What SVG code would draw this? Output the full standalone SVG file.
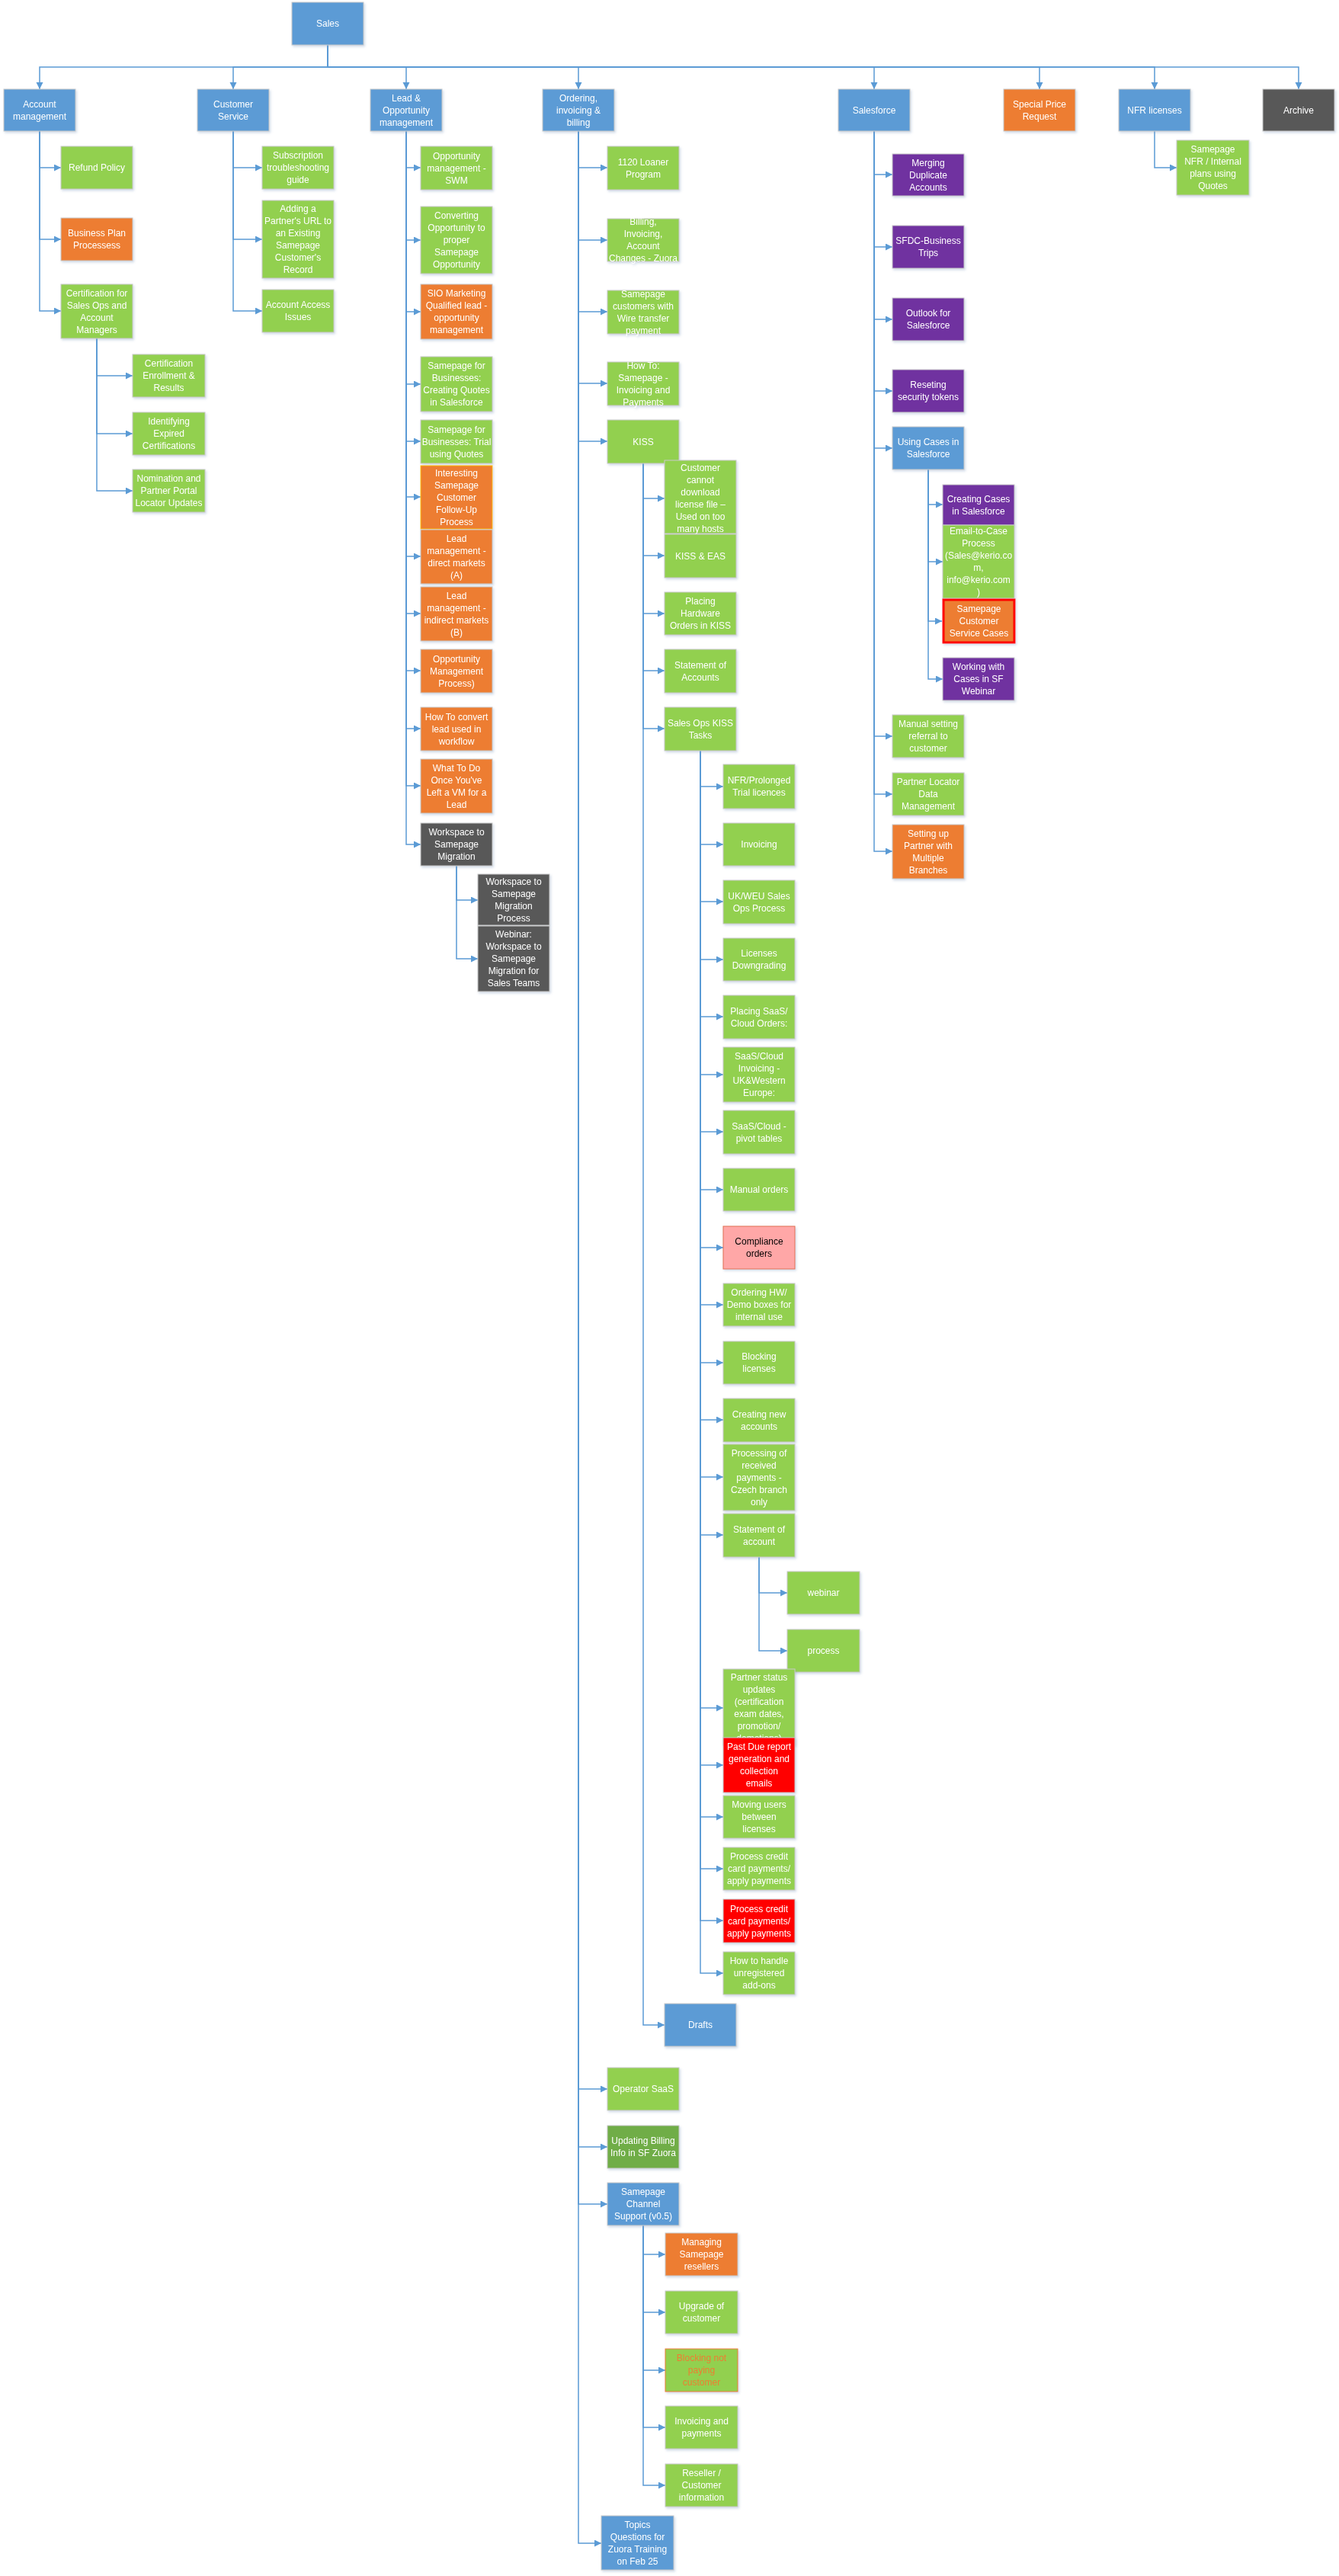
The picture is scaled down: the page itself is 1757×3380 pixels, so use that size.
<svg xmlns="http://www.w3.org/2000/svg" width="1757" height="3380" viewBox="0 0 1757 3380">
<style>
.node rect{stroke:#C9C9C9;stroke-width:1}
.blue{fill:#5B9BD5}.green{fill:#92D050}.orange{fill:#ED7D31}.purple{fill:#7030A0}.gray{fill:#595959}.red{fill:#FF0000}.pink{fill:#FFA7A7}.dgreen{fill:#70AD47}
text{font-family:"Liberation Sans",Arial,sans-serif;font-size:12px;fill:#FFFFFF;text-anchor:middle;dominant-baseline:central}
.conn path{fill:none;stroke:#5B9BD5;stroke-width:1.5;marker-end:url(#arr)}
.node{filter:url(#sh)}
</style>
<defs>
<marker id="arr" markerUnits="userSpaceOnUse" markerWidth="10" markerHeight="10" refX="9" refY="4.5" orient="auto"><path d="M0,0L9,4.5L0,9z" fill="#5B9BD5"/></marker>
<filter id="sh" x="-10%" y="-10%" width="130%" height="140%"><feDropShadow dx="1.5" dy="2" stdDeviation="1.5" flood-color="#7F9CC0" flood-opacity="0.35"/></filter>
</defs>
<rect width="1757" height="3380" fill="#FFFFFF"/>
<g id="connectors" class="conn">
<path d="M430,59V88H52V117"/><path d="M430,59V88H306V117"/><path d="M430,59V88H533V117"/><path d="M430,59V88H759V117"/><path d="M430,59V88H1147V117"/><path d="M430,59V88H1364V117"/><path d="M430,59V88H1515V117"/><path d="M430,59V88H1704V117"/>
<path d="M52,172V220H80"/><path d="M52,172V314H80"/><path d="M52,172V408H80"/>
<path d="M127,444V493H174"/><path d="M127,444V569H174"/><path d="M127,444V644H174"/>
<path d="M306,172V220H344"/><path d="M306,172V314H344"/><path d="M306,172V408H344"/>
<path d="M533,172V220H552"/><path d="M533,172V315H552"/><path d="M533,172V409H552"/><path d="M533,172V504H552"/><path d="M533,172V579H552"/><path d="M533,172V652H552"/><path d="M533,172V730H552"/><path d="M533,172V805H552"/><path d="M533,172V880H552"/><path d="M533,172V956H552"/><path d="M533,172V1031H552"/><path d="M533,172V1108H552"/>
<path d="M599,1136V1181H627"/><path d="M599,1136V1258H627"/>
<path d="M759,172V220H797"/><path d="M759,172V315H797"/><path d="M759,172V409H797"/><path d="M759,172V503H797"/><path d="M759,172V579H797"/><path d="M759,172V2741H797"/><path d="M759,172V2817H797"/><path d="M759,172V2892H797"/><path d="M759,172V3337H789"/>
<path d="M844,608V654H872"/><path d="M844,608V729H872"/><path d="M844,608V805H872"/><path d="M844,608V880H872"/><path d="M844,608V956H872"/><path d="M844,608V2657H872"/>
<path d="M919,985V1032H949"/><path d="M919,985V1108H949"/><path d="M919,985V1183H949"/><path d="M919,985V1259H949"/><path d="M919,985V1334H949"/><path d="M919,985V1410H949"/><path d="M919,985V1485H949"/><path d="M919,985V1561H949"/><path d="M919,985V1637H949"/><path d="M919,985V1712H949"/><path d="M919,985V1788H949"/><path d="M919,985V1863H949"/><path d="M919,985V1938H949"/><path d="M919,985V2014H949"/><path d="M919,985V2241H949"/><path d="M919,985V2316H949"/><path d="M919,985V2384H949"/><path d="M919,985V2452H949"/><path d="M919,985V2520H949"/><path d="M919,985V2589H949"/>
<path d="M996,2043V2090H1033"/><path d="M996,2043V2166H1033"/>
<path d="M844,2920V2958H873"/><path d="M844,2920V3034H873"/><path d="M844,2920V3110H873"/><path d="M844,2920V3185H873"/><path d="M844,2920V3261H873"/>
<path d="M1147,172V229H1171"/><path d="M1147,172V324H1171"/><path d="M1147,172V419H1171"/><path d="M1147,172V513H1171"/><path d="M1147,172V588H1171"/><path d="M1147,172V966H1171"/><path d="M1147,172V1042H1171"/><path d="M1147,172V1117H1171"/>
<path d="M1218,616V662H1237"/><path d="M1218,616V737H1237"/><path d="M1218,616V815H1236"/><path d="M1218,616V891H1237"/>
<path d="M1515,172V220H1544"/>
</g>
<g id="n_sales" class="node"><rect class="blue" x="383" y="3" width="94" height="56"/><text x="430" y="31">Sales</text></g>
<g id="n_acct" class="node"><rect class="blue" x="5" y="117" width="94" height="55"/><text x="52" y="136.5"><tspan x="52">Account</tspan><tspan x="52" dy="16">management</tspan></text></g>
<g id="n_cs" class="node"><rect class="blue" x="259" y="117" width="94" height="55"/><text x="306" y="136.5"><tspan x="306">Customer</tspan><tspan x="306" dy="16">Service</tspan></text></g>
<g id="n_lead" class="node"><rect class="blue" x="486" y="117" width="94" height="55"/><text x="533" y="128.5"><tspan x="533">Lead &amp;</tspan><tspan x="533" dy="16">Opportunity</tspan><tspan x="533" dy="16">management</tspan></text></g>
<g id="n_order" class="node"><rect class="blue" x="712" y="117" width="94" height="55"/><text x="759" y="128.5"><tspan x="759">Ordering,</tspan><tspan x="759" dy="16">invoicing &amp;</tspan><tspan x="759" dy="16">billing</tspan></text></g>
<g id="n_sf" class="node"><rect class="blue" x="1100" y="117" width="94" height="55"/><text x="1147" y="144.5">Salesforce</text></g>
<g id="n_spr" class="node"><rect class="orange" x="1317" y="117" width="94" height="55"/><text x="1364" y="136.5"><tspan x="1364">Special Price</tspan><tspan x="1364" dy="16">Request</tspan></text></g>
<g id="n_nfr" class="node"><rect class="blue" x="1468" y="117" width="94" height="55"/><text x="1515" y="144.5">NFR licenses</text></g>
<g id="n_arch" class="node"><rect class="gray" x="1657" y="117" width="94" height="55"/><text x="1704" y="144.5">Archive</text></g>
<g id="n_refund" class="node"><rect class="green" x="80" y="192" width="94" height="56"/><text x="127" y="220">Refund Policy</text></g>
<g id="n_bpp" class="node"><rect class="orange" x="80" y="286" width="94" height="56"/><text x="127" y="306"><tspan x="127">Business Plan</tspan><tspan x="127" dy="16">Processess</tspan></text></g>
<g id="n_cert" class="node"><rect class="green" x="80" y="373" width="94" height="71"/><text x="127" y="384.5"><tspan x="127">Certification for</tspan><tspan x="127" dy="16">Sales Ops and</tspan><tspan x="127" dy="16">Account</tspan><tspan x="127" dy="16">Managers</tspan></text></g>
<g id="n_cer1" class="node"><rect class="green" x="174" y="465" width="95" height="56"/><text x="221.5" y="477"><tspan x="221.5">Certification</tspan><tspan x="221.5" dy="16">Enrollment &amp;</tspan><tspan x="221.5" dy="16">Results</tspan></text></g>
<g id="n_cer2" class="node"><rect class="green" x="174" y="541" width="95" height="56"/><text x="221.5" y="553"><tspan x="221.5">Identifying</tspan><tspan x="221.5" dy="16">Expired</tspan><tspan x="221.5" dy="16">Certifications</tspan></text></g>
<g id="n_cer3" class="node"><rect class="green" x="174" y="616" width="95" height="56"/><text x="221.5" y="628"><tspan x="221.5">Nomination and</tspan><tspan x="221.5" dy="16">Partner Portal</tspan><tspan x="221.5" dy="16">Locator Updates</tspan></text></g>
<g id="n_sub" class="node"><rect class="green" x="344" y="192" width="94" height="56"/><text x="391" y="204"><tspan x="391">Subscription</tspan><tspan x="391" dy="16">troubleshooting</tspan><tspan x="391" dy="16">guide</tspan></text></g>
<g id="n_add" class="node"><rect class="green" x="344" y="263" width="94" height="102"/><text x="391" y="274"><tspan x="391">Adding a</tspan><tspan x="391" dy="16">Partner's URL to</tspan><tspan x="391" dy="16">an Existing</tspan><tspan x="391" dy="16">Samepage</tspan><tspan x="391" dy="16">Customer's</tspan><tspan x="391" dy="16">Record</tspan></text></g>
<g id="n_aai" class="node"><rect class="green" x="344" y="380" width="94" height="56"/><text x="391" y="400"><tspan x="391">Account Access</tspan><tspan x="391" dy="16">Issues</tspan></text></g>
<g id="n_swm" class="node"><rect class="green" x="552" y="192" width="94" height="57"/><text x="599" y="204.5"><tspan x="599">Opportunity</tspan><tspan x="599" dy="16">management -</tspan><tspan x="599" dy="16">SWM</tspan></text></g>
<g id="n_conv" class="node"><rect class="green" x="552" y="271" width="94" height="88"/><text x="599" y="283"><tspan x="599">Converting</tspan><tspan x="599" dy="16">Opportunity to</tspan><tspan x="599" dy="16">proper</tspan><tspan x="599" dy="16">Samepage</tspan><tspan x="599" dy="16">Opportunity</tspan></text></g>
<g id="n_sio" class="node"><rect class="orange" x="552" y="373" width="94" height="72"/><text x="599" y="385"><tspan x="599">SIO Marketing</tspan><tspan x="599" dy="16">Qualified lead -</tspan><tspan x="599" dy="16">opportunity</tspan><tspan x="599" dy="16">management</tspan></text></g>
<g id="n_sfb1" class="node"><rect class="green" x="552" y="468" width="94" height="72"/><text x="599" y="480"><tspan x="599">Samepage for</tspan><tspan x="599" dy="16">Businesses:</tspan><tspan x="599" dy="16">Creating Quotes</tspan><tspan x="599" dy="16">in Salesforce</tspan></text></g>
<g id="n_sfb2" class="node"><rect class="green" x="552" y="551" width="94" height="57"/><text x="599" y="563.5"><tspan x="599">Samepage for</tspan><tspan x="599" dy="16">Businesses: Trial</tspan><tspan x="599" dy="16">using Quotes</tspan></text></g>
<g id="n_int" class="node"><rect class="orange" x="552" y="611" width="94" height="83" style="stroke:#FFC000"/><text x="599" y="620.5"><tspan x="599">Interesting</tspan><tspan x="599" dy="16">Samepage</tspan><tspan x="599" dy="16">Customer</tspan><tspan x="599" dy="16">Follow-Up</tspan><tspan x="599" dy="16">Process</tspan></text></g>
<g id="n_lma" class="node"><rect class="orange" x="552" y="695" width="94" height="71"/><text x="599" y="706.5"><tspan x="599">Lead</tspan><tspan x="599" dy="16">management -</tspan><tspan x="599" dy="16">direct markets</tspan><tspan x="599" dy="16">(A)</tspan></text></g>
<g id="n_lmb" class="node"><rect class="orange" x="552" y="770" width="94" height="71"/><text x="599" y="781.5"><tspan x="599">Lead</tspan><tspan x="599" dy="16">management -</tspan><tspan x="599" dy="16">indirect markets</tspan><tspan x="599" dy="16">(B)</tspan></text></g>
<g id="n_omp" class="node"><rect class="orange" x="552" y="852" width="94" height="57"/><text x="599" y="864.5"><tspan x="599">Opportunity</tspan><tspan x="599" dy="16">Management</tspan><tspan x="599" dy="16">Process)</tspan></text></g>
<g id="n_htc" class="node"><rect class="orange" x="552" y="928" width="94" height="57"/><text x="599" y="940.5"><tspan x="599">How To convert</tspan><tspan x="599" dy="16">lead used in</tspan><tspan x="599" dy="16">workflow</tspan></text></g>
<g id="n_wtd" class="node"><rect class="orange" x="552" y="996" width="94" height="71"/><text x="599" y="1007.5"><tspan x="599">What To Do</tspan><tspan x="599" dy="16">Once You've</tspan><tspan x="599" dy="16">Left a VM for a</tspan><tspan x="599" dy="16">Lead</tspan></text></g>
<g id="n_wsm" class="node"><rect class="gray" x="552" y="1080" width="94" height="56"/><text x="599" y="1092"><tspan x="599">Workspace to</tspan><tspan x="599" dy="16">Samepage</tspan><tspan x="599" dy="16">Migration</tspan></text></g>
<g id="n_wsp" class="node"><rect class="gray" x="627" y="1147" width="94" height="67"/><text x="674" y="1156.5"><tspan x="674">Workspace to</tspan><tspan x="674" dy="16">Samepage</tspan><tspan x="674" dy="16">Migration</tspan><tspan x="674" dy="16">Process</tspan></text></g>
<g id="n_web" class="node"><rect class="gray" x="627" y="1215" width="94" height="86"/><text x="674" y="1226"><tspan x="674">Webinar:</tspan><tspan x="674" dy="16">Workspace to</tspan><tspan x="674" dy="16">Samepage</tspan><tspan x="674" dy="16">Migration for</tspan><tspan x="674" dy="16">Sales Teams</tspan></text></g>
<g id="n_1120" class="node"><rect class="green" x="797" y="192" width="94" height="57"/><text x="844" y="212.5"><tspan x="844">1120 Loaner</tspan><tspan x="844" dy="16">Program</tspan></text></g>
<g id="n_bill" class="node"><rect class="green" x="797" y="287" width="94" height="56"/><text x="844" y="291"><tspan x="844">Billing,</tspan><tspan x="844" dy="16">Invoicing,</tspan><tspan x="844" dy="16">Account</tspan><tspan x="844" dy="16">Changes - Zuora</tspan></text></g>
<g id="n_wire" class="node"><rect class="green" x="797" y="381" width="94" height="57"/><text x="844" y="385.5"><tspan x="844">Samepage</tspan><tspan x="844" dy="16">customers with</tspan><tspan x="844" dy="16">Wire transfer</tspan><tspan x="844" dy="16">payment</tspan></text></g>
<g id="n_howto" class="node"><rect class="green" x="797" y="475" width="94" height="57"/><text x="844" y="479.5"><tspan x="844">How To:</tspan><tspan x="844" dy="16">Samepage -</tspan><tspan x="844" dy="16">Invoicing and</tspan><tspan x="844" dy="16">Payments</tspan></text></g>
<g id="n_kiss" class="node"><rect class="green" x="797" y="551" width="94" height="57"/><text x="844" y="579.5">KISS</text></g>
<g id="n_ccd" class="node"><rect class="green" x="872" y="604" width="94" height="96"/><text x="919" y="614"><tspan x="919">Customer</tspan><tspan x="919" dy="16">cannot</tspan><tspan x="919" dy="16">download</tspan><tspan x="919" dy="16">license file –</tspan><tspan x="919" dy="16">Used on too</tspan><tspan x="919" dy="16">many hosts</tspan></text></g>
<g id="n_eas" class="node"><rect class="green" x="872" y="701" width="94" height="57"/><text x="919" y="729.5">KISS &amp; EAS</text></g>
<g id="n_phw" class="node"><rect class="green" x="872" y="777" width="94" height="56"/><text x="919" y="789"><tspan x="919">Placing</tspan><tspan x="919" dy="16">Hardware</tspan><tspan x="919" dy="16">Orders in KISS</tspan></text></g>
<g id="n_soa" class="node"><rect class="green" x="872" y="852" width="94" height="57"/><text x="919" y="872.5"><tspan x="919">Statement of</tspan><tspan x="919" dy="16">Accounts</tspan></text></g>
<g id="n_sokt" class="node"><rect class="green" x="872" y="928" width="94" height="57"/><text x="919" y="948.5"><tspan x="919">Sales Ops KISS</tspan><tspan x="919" dy="16">Tasks</tspan></text></g>
<g id="n_t1" class="node"><rect class="green" x="949" y="1003" width="94" height="58"/><text x="996" y="1024"><tspan x="996">NFR/Prolonged</tspan><tspan x="996" dy="16">Trial licences</tspan></text></g>
<g id="n_t2" class="node"><rect class="green" x="949" y="1080" width="94" height="56"/><text x="996" y="1108">Invoicing</text></g>
<g id="n_t3" class="node"><rect class="green" x="949" y="1155" width="94" height="57"/><text x="996" y="1175.5"><tspan x="996">UK/WEU Sales</tspan><tspan x="996" dy="16">Ops Process</tspan></text></g>
<g id="n_t4" class="node"><rect class="green" x="949" y="1231" width="94" height="56"/><text x="996" y="1251"><tspan x="996">Licenses</tspan><tspan x="996" dy="16">Downgrading</tspan></text></g>
<g id="n_t5" class="node"><rect class="green" x="949" y="1306" width="94" height="57"/><text x="996" y="1326.5"><tspan x="996">Placing SaaS/</tspan><tspan x="996" dy="16">Cloud Orders:</tspan></text></g>
<g id="n_t6" class="node"><rect class="green" x="949" y="1374" width="94" height="72"/><text x="996" y="1386"><tspan x="996">SaaS/Cloud</tspan><tspan x="996" dy="16">Invoicing -</tspan><tspan x="996" dy="16">UK&amp;Western</tspan><tspan x="996" dy="16">Europe:</tspan></text></g>
<g id="n_t7" class="node"><rect class="green" x="949" y="1457" width="94" height="57"/><text x="996" y="1477.5"><tspan x="996">SaaS/Cloud -</tspan><tspan x="996" dy="16">pivot tables</tspan></text></g>
<g id="n_t8" class="node"><rect class="green" x="949" y="1533" width="94" height="56"/><text x="996" y="1561">Manual orders</text></g>
<g id="n_t9" class="node"><rect class="pink" x="949" y="1609" width="94" height="56" style="stroke:#E07050"/><text x="996" y="1629" style="fill:#000000"><tspan x="996">Compliance</tspan><tspan x="996" dy="16">orders</tspan></text></g>
<g id="n_t10" class="node"><rect class="green" x="949" y="1684" width="94" height="56"/><text x="996" y="1696"><tspan x="996">Ordering HW/</tspan><tspan x="996" dy="16">Demo boxes for</tspan><tspan x="996" dy="16">internal use</tspan></text></g>
<g id="n_t11" class="node"><rect class="green" x="949" y="1760" width="94" height="56"/><text x="996" y="1780"><tspan x="996">Blocking</tspan><tspan x="996" dy="16">licenses</tspan></text></g>
<g id="n_t12" class="node"><rect class="green" x="949" y="1835" width="94" height="57"/><text x="996" y="1855.5"><tspan x="996">Creating new</tspan><tspan x="996" dy="16">accounts</tspan></text></g>
<g id="n_t13" class="node"><rect class="green" x="949" y="1895" width="94" height="87"/><text x="996" y="1906.5"><tspan x="996">Processing of</tspan><tspan x="996" dy="16">received</tspan><tspan x="996" dy="16">payments -</tspan><tspan x="996" dy="16">Czech branch</tspan><tspan x="996" dy="16">only</tspan></text></g>
<g id="n_t14" class="node"><rect class="green" x="949" y="1986" width="94" height="57"/><text x="996" y="2006.5"><tspan x="996">Statement of</tspan><tspan x="996" dy="16">account</tspan></text></g>
<g id="n_webinar" class="node"><rect class="green" x="1033" y="2062" width="95" height="56"/><text x="1080.5" y="2090">webinar</text></g>
<g id="n_process" class="node"><rect class="green" x="1033" y="2138" width="95" height="56"/><text x="1080.5" y="2166">process</text></g>
<g id="n_t15" class="node"><rect class="green" x="949" y="2190" width="94" height="100"/><text x="996" y="2201"><tspan x="996">Partner status</tspan><tspan x="996" dy="16">updates</tspan><tspan x="996" dy="16">(certification</tspan><tspan x="996" dy="16">exam dates,</tspan><tspan x="996" dy="16">promotion/</tspan><tspan x="996" dy="16">demotions)</tspan></text></g>
<g id="n_t16" class="node"><rect class="red" x="949" y="2280" width="94" height="72"/><text x="996" y="2292"><tspan x="996">Past Due report</tspan><tspan x="996" dy="16">generation and</tspan><tspan x="996" dy="16">collection</tspan><tspan x="996" dy="16">emails</tspan></text></g>
<g id="n_t17" class="node"><rect class="green" x="949" y="2356" width="94" height="56"/><text x="996" y="2368"><tspan x="996">Moving users</tspan><tspan x="996" dy="16">between</tspan><tspan x="996" dy="16">licenses</tspan></text></g>
<g id="n_t18" class="node"><rect class="green" x="949" y="2424" width="94" height="56"/><text x="996" y="2436"><tspan x="996">Process credit</tspan><tspan x="996" dy="16">card payments/</tspan><tspan x="996" dy="16">apply payments</tspan></text></g>
<g id="n_t19" class="node"><rect class="red" x="949" y="2492" width="94" height="57"/><text x="996" y="2504.5"><tspan x="996">Process credit</tspan><tspan x="996" dy="16">card payments/</tspan><tspan x="996" dy="16">apply payments</tspan></text></g>
<g id="n_t20" class="node"><rect class="green" x="949" y="2561" width="94" height="56"/><text x="996" y="2573"><tspan x="996">How to handle</tspan><tspan x="996" dy="16">unregistered</tspan><tspan x="996" dy="16">add-ons</tspan></text></g>
<g id="n_drafts" class="node"><rect class="blue" x="872" y="2629" width="94" height="56"/><text x="919" y="2657">Drafts</text></g>
<g id="n_opsaas" class="node"><rect class="green" x="797" y="2713" width="94" height="56"/><text x="844" y="2741">Operator SaaS</text></g>
<g id="n_updbill" class="node"><rect class="dgreen" x="797" y="2789" width="94" height="56"/><text x="844" y="2809"><tspan x="844">Updating Billing</tspan><tspan x="844" dy="16">Info in SF Zuora</tspan></text></g>
<g id="n_channel" class="node"><rect class="blue" x="797" y="2864" width="94" height="56"/><text x="844" y="2876"><tspan x="844">Samepage</tspan><tspan x="844" dy="16">Channel</tspan><tspan x="844" dy="16">Support (v0.5)</tspan></text></g>
<g id="n_managing" class="node"><rect class="orange" x="873" y="2930" width="95" height="56"/><text x="920.5" y="2942"><tspan x="920.5">Managing</tspan><tspan x="920.5" dy="16">Samepage</tspan><tspan x="920.5" dy="16">resellers</tspan></text></g>
<g id="n_upgrade" class="node"><rect class="green" x="873" y="3006" width="95" height="56"/><text x="920.5" y="3026"><tspan x="920.5">Upgrade of</tspan><tspan x="920.5" dy="16">customer</tspan></text></g>
<g id="n_blocknp" class="node"><rect class="green" x="873" y="3082" width="95" height="56" style="stroke:#ED7D31"/><text x="920.5" y="3094" style="fill:#ED7D31"><tspan x="920.5">Blocking not</tspan><tspan x="920.5" dy="16">paying</tspan><tspan x="920.5" dy="16">customer</tspan></text></g>
<g id="n_invpay" class="node"><rect class="green" x="873" y="3157" width="95" height="56"/><text x="920.5" y="3177"><tspan x="920.5">Invoicing and</tspan><tspan x="920.5" dy="16">payments</tspan></text></g>
<g id="n_reseller" class="node"><rect class="green" x="873" y="3233" width="95" height="56"/><text x="920.5" y="3245"><tspan x="920.5">Reseller /</tspan><tspan x="920.5" dy="16">Customer</tspan><tspan x="920.5" dy="16">information</tspan></text></g>
<g id="n_topics" class="node"><rect class="blue" x="789" y="3301" width="95" height="71"/><text x="836.5" y="3312.5"><tspan x="836.5">Topics</tspan><tspan x="836.5" dy="16">Questions for</tspan><tspan x="836.5" dy="16">Zuora Training</tspan><tspan x="836.5" dy="16">on Feb 25</tspan></text></g>
<g id="n_merge" class="node"><rect class="purple" x="1171" y="202" width="94" height="55"/><text x="1218" y="213.5"><tspan x="1218">Merging</tspan><tspan x="1218" dy="16">Duplicate</tspan><tspan x="1218" dy="16">Accounts</tspan></text></g>
<g id="n_sfdc" class="node"><rect class="purple" x="1171" y="296" width="94" height="56"/><text x="1218" y="316"><tspan x="1218">SFDC-Business</tspan><tspan x="1218" dy="16">Trips</tspan></text></g>
<g id="n_outlook" class="node"><rect class="purple" x="1171" y="391" width="94" height="56"/><text x="1218" y="411"><tspan x="1218">Outlook for</tspan><tspan x="1218" dy="16">Salesforce</tspan></text></g>
<g id="n_reset" class="node"><rect class="purple" x="1171" y="485" width="94" height="56"/><text x="1218" y="505"><tspan x="1218">Reseting</tspan><tspan x="1218" dy="16">security tokens</tspan></text></g>
<g id="n_usingcases" class="node"><rect class="blue" x="1171" y="560" width="94" height="56"/><text x="1218" y="580"><tspan x="1218">Using Cases in</tspan><tspan x="1218" dy="16">Salesforce</tspan></text></g>
<g id="n_creating" class="node"><rect class="purple" x="1237" y="636" width="94" height="53"/><text x="1284" y="654.5"><tspan x="1284">Creating Cases</tspan><tspan x="1284" dy="16">in Salesforce</tspan></text></g>
<g id="n_email" class="node"><rect class="green" x="1237" y="689" width="94" height="96"/><text x="1284" y="697"><tspan x="1284">Email-to-Case</tspan><tspan x="1284" dy="16">Process</tspan><tspan x="1284" dy="16">(Sales@kerio.co</tspan><tspan x="1284" dy="16">m,</tspan><tspan x="1284" dy="16">info@kerio.com</tspan><tspan x="1284" dy="16">)</tspan></text></g>
<g id="n_scsc" class="node"><rect class="orange" x="1238" y="787" width="93" height="56" style="stroke:#FF0000;stroke-width:3"/><text x="1284.5" y="799"><tspan x="1284.5">Samepage</tspan><tspan x="1284.5" dy="16">Customer</tspan><tspan x="1284.5" dy="16">Service Cases</tspan></text></g>
<g id="n_working" class="node"><rect class="purple" x="1237" y="863" width="94" height="56"/><text x="1284" y="875"><tspan x="1284">Working with</tspan><tspan x="1284" dy="16">Cases in SF</tspan><tspan x="1284" dy="16">Webinar</tspan></text></g>
<g id="n_manual" class="node"><rect class="green" x="1171" y="938" width="94" height="56"/><text x="1218" y="950"><tspan x="1218">Manual setting</tspan><tspan x="1218" dy="16">referral to</tspan><tspan x="1218" dy="16">customer</tspan></text></g>
<g id="n_partnerloc" class="node"><rect class="green" x="1171" y="1014" width="94" height="56"/><text x="1218" y="1026"><tspan x="1218">Partner Locator</tspan><tspan x="1218" dy="16">Data</tspan><tspan x="1218" dy="16">Management</tspan></text></g>
<g id="n_settingup" class="node"><rect class="orange" x="1171" y="1082" width="94" height="71"/><text x="1218" y="1093.5"><tspan x="1218">Setting up</tspan><tspan x="1218" dy="16">Partner with</tspan><tspan x="1218" dy="16">Multiple</tspan><tspan x="1218" dy="16">Branches</tspan></text></g>
<g id="n_nfrchild" class="node"><rect class="green" x="1544" y="184" width="95" height="72"/><text x="1591.5" y="196"><tspan x="1591.5">Samepage</tspan><tspan x="1591.5" dy="16">NFR / Internal</tspan><tspan x="1591.5" dy="16">plans using</tspan><tspan x="1591.5" dy="16">Quotes</tspan></text></g>
</svg>
